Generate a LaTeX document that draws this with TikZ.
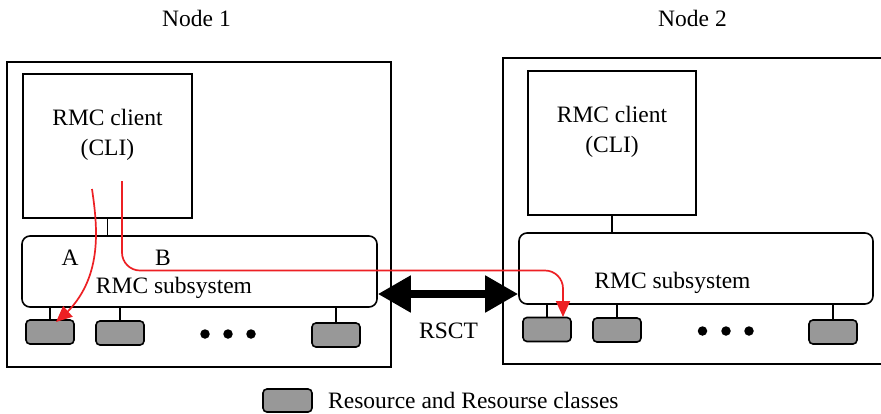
\documentclass[tikz,border=0pt]{standalone}
\usepackage{fontspec}
\setmainfont{Liberation Serif}
\usetikzlibrary{arrows.meta,bending,calc}
\definecolor{flowred}{RGB}{237,32,36}
\definecolor{resgray}{RGB}{152,152,152}
\newcommand\mainfs{\fontsize{23.5}{28}\selectfont}
\tikzset{
  outerbox/.style={draw, line width=1.9pt, inner sep=0pt},
  clientbox/.style={draw, line width=1.7pt, inner sep=0pt, minimum height=144pt},
  subbox/.style={draw, line width=1.6pt, rounded corners=8pt, inner sep=0pt, minimum height=71pt},
  resbox/.style={draw, line width=1.6pt, rounded corners=4pt, fill=resgray, inner sep=0pt, minimum width=48pt, minimum height=24pt},
  lbl/.style={anchor=base, inner sep=0pt, font=\mainfs},
  stub/.style={line width=1.5pt},
  flow/.style={draw=flowred, line width=1.7pt, -{Triangle[length=16pt,width=14pt,flex]}, fill=none},
  dotnode/.style={circle, fill=black, inner sep=0pt, minimum size=9.5pt},
  rsct/.style={line width=8pt, {Triangle[length=33pt,width=35pt]}-{Triangle[length=33pt,width=35pt]}},
}
\begin{document}
\begin{tikzpicture}[x=1pt,y=-1pt]
\useasboundingbox (0,0) rectangle (881,413);
\clip (0,0) rectangle (881,413);
\fill[white] (0,0) rectangle (881,413);

% titles
\node[lbl] (t1) at (196.5,26) {Node 1};
\node[lbl] (t2) at (692.5,26) {Node 2};

% outer boxes
\node[outerbox, minimum width=384pt, minimum height=305pt] (n1) at (199,214.5) {};
\node[outerbox, minimum width=397pt, minimum height=306pt] (n2) at (701.5,211) {};

% clients
\node[clientbox, minimum width=169pt] (c1) at (107.5,146) {};
\node[clientbox, minimum width=168pt] (c2) at (612,143) {};
\node[lbl] (c1a) at (107.5,125) {RMC client};
\node[lbl] (c1b) at (107.5,155) {(CLI)};
\node[lbl] (c2a) at (612,122) {RMC client};
\node[lbl] (c2b) at (612,152) {(CLI)};

% subsystems
\node[subbox, minimum width=355pt] (s1) at (199.5,271.5) {};
\node[subbox, minimum width=354pt] (s2) at (696,268.5) {};
\node[lbl] (s1t) at (174,293) {RMC subsystem};
\node[lbl] (s2t) at (672.5,288) {RMC subsystem};
\node[lbl] (la) at (70,265) {A};
\node[lbl] (lb) at (163,265) {B};

% client-subsystem links
\draw[stub] (c1.south) -- (c1.south |- s1.north);
\draw[stub] (c2.south) -- (c2.south |- s2.north);

% resources node 1
\node[resbox] (r11) at (50,332) {};
\node[resbox] (r12) at (120,333) {};
\node[resbox] (r13) at (336,335) {};
% resources node 2
\node[resbox] (r21) at (547,329.5) {};
\node[resbox] (r22) at (617,330) {};
\node[resbox] (r23) at (833,332) {};

\foreach \r in {r11,r12,r13}{\draw[stub] (\r.north) -- (\r.north |- s1.south);}
\foreach \r in {r21,r22,r23}{\draw[stub] (\r.north) -- (\r.north |- s2.south);}

% dots
\node[dotnode] (d11) at (205,334) {};
\node[dotnode] (d12) at (228,334) {};
\node[dotnode] (d13) at (251,334) {};
\node[dotnode] (d21) at (702.5,331) {};
\node[dotnode] (d22) at (726,331) {};
\node[dotnode] (d23) at (749,331) {};

% RSCT link
\coordinate (ry) at (0,294);
\draw[rsct] (s1.east |- ry) -- (s2.west |- ry);
\node[lbl] (rs) at (448.5,338) {RSCT};

% red flows
\coordinate (fa) at (92,189);
\coordinate (fb) at (122,181);
\coordinate (fat) at (56,322);
\coordinate (fbt) at (563,317);
\draw[flow] (fa) .. controls (98,230) and (104,285) .. (fat);
\draw[flow, rounded corners=18pt] (fb) -- (fb |- 0,270.5) -- (fbt |- 0,270.5) -- (fbt);

% legend
\node[resbox, minimum width=49pt, minimum height=23pt] (lg) at (287.5,400.5) {};
\node[lbl, anchor=base west] (lgt) at (328,408.5) {Resource and Resourse classes};
\end{tikzpicture}
\end{document}
